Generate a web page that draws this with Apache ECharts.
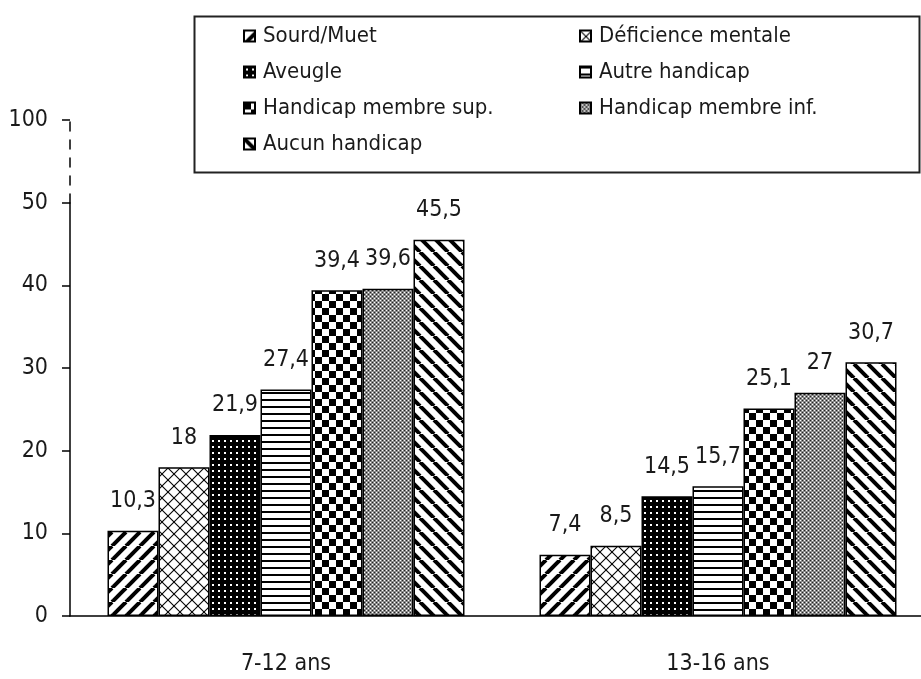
<!DOCTYPE html>
<html>
<head>
<meta charset="utf-8">
<script src="https://cdn.jsdelivr.net/npm/echarts@6/dist/echarts.min.js"></script>
<style>
html,body{margin:0;padding:0;background:#fff;overflow:hidden;}
#chart{width:934px;height:679px;}
</style>
</head>
<body>
<div id="chart"></div>
<script>
const categories = ['7-12 ans', '13-16 ans'];
const seriesNames = ['Sourd/Muet', 'Déficience mentale', 'Aveugle', 'Autre handicap', 'Handicap membre sup.', 'Handicap membre inf.', 'Aucun handicap'];
const sourdMuet = [10.3, 7.4];
const deficienceMentale = [18, 8.5];
const aveugle = [21.9, 14.5];
const autreHandicap = [27.4, 15.7];
const membreSup = [39.4, 25.1];
const membreInf = [39.6, 27];
const aucunHandicap = [45.5, 30.7];
const yTickLabels = {0: '0', 10: '10', 20: '20', 30: '30', 40: '40', 50: '50', 60: '100'};

const FONT = "'Liberation Sans Narrow', 'Arial Narrow', 'DejaVu Sans Condensed', sans-serif";

function pat(w, h, draw) {
  const c = document.createElement('canvas');
  c.width = w; c.height = h;
  const ctx = c.getContext('2d');
  ctx.fillStyle = '#fff';
  ctx.fillRect(0, 0, w, h);
  draw(ctx, w, h);
  return {image: c, repeat: 'repeat'};
}
const patterns = [
  pat(14, 14, (ctx, w, h) => { ctx.strokeStyle = '#000'; ctx.lineWidth = 4;
    for (const o of [-w, 0, w]) { ctx.beginPath(); ctx.moveTo(o, h); ctx.lineTo(o + w, 0); ctx.stroke(); } }),
  pat(12, 12, (ctx, w, h) => { ctx.strokeStyle = '#000'; ctx.lineWidth = 1.1;
    for (const o of [-w, 0, w]) { ctx.beginPath(); ctx.moveTo(o, h); ctx.lineTo(o + w, 0); ctx.stroke();
      ctx.beginPath(); ctx.moveTo(o, 0); ctx.lineTo(o + w, h); ctx.stroke(); } }),
  pat(6, 6, (ctx, w, h) => { ctx.fillStyle = '#000'; ctx.fillRect(0, 0, w, h); ctx.fillStyle = '#fff'; ctx.fillRect(2, 2, 2, 2); }),
  pat(7, 7, (ctx, w, h) => { ctx.fillStyle = '#000'; ctx.fillRect(0, 0, w, 2); }),
  pat(14, 14, (ctx, w, h) => { ctx.fillStyle = '#000'; ctx.fillRect(0, 0, 7, 7); ctx.fillRect(7, 7, 7, 7); }),
  pat(4, 4, (ctx, w, h) => { ctx.fillStyle = '#8a8a8a'; ctx.fillRect(0, 0, w, h);
    ctx.fillStyle = '#fff'; ctx.fillRect(0, 0, 1, 1); ctx.fillRect(2, 2, 1, 1);
    ctx.fillStyle = '#222'; ctx.fillRect(2, 0, 1, 1); ctx.fillRect(0, 2, 1, 1); }),
  pat(14, 14, (ctx, w, h) => { ctx.strokeStyle = '#000'; ctx.lineWidth = 4;
    for (const o of [-w, 0, w]) { ctx.beginPath(); ctx.moveTo(o, 0); ctx.lineTo(o + w, h); ctx.stroke(); } })
];
const values = [sourdMuet, deficienceMentale, aveugle, autreHandicap, membreSup, membreInf, aucunHandicap];

const chart = echarts.init(document.getElementById('chart'));
const series = seriesNames.map((name, i) => ({
  name: name,
  type: 'bar',
  xAxisIndex: 0, yAxisIndex: 0,
  data: values[i],
  barWidth: 51,
  barGap: '0%',
  itemStyle: {color: patterns[i], borderColor: '#000', borderWidth: 1.5},
  label: {
    show: true, position: 'top', distance: 18,
    fontFamily: FONT, fontSize: 23, color: '#1a1a1a',
    formatter: p => String(p.value).replace('.', ',')
  },
  emphasis: {disabled: true}
}));

const legendCommon = {
  orient: 'vertical',
  padding: 0,
  itemWidth: 11, itemHeight: 11,
  itemGap: 14,
  icon: 'rect',
  selectedMode: false,
  textStyle: {fontFamily: FONT, fontSize: 22, color: '#1a1a1a', padding: [0, 0, 0, 3]}
};

chart.setOption({
  backgroundColor: '#fff',
  animation: false,
  graphic: [{
    type: 'rect', left: 192, top: 14,
    shape: {width: 725, height: 156},
    style: {fill: 'none', stroke: '#222', lineWidth: 2},
    z: 0
  }],
  legend: [
    Object.assign({left: 243, top: 25, data: [seriesNames[0], seriesNames[2], seriesNames[4], seriesNames[6]]}, legendCommon),
    Object.assign({left: 579, top: 25, data: [seriesNames[1], seriesNames[3], seriesNames[5]]}, legendCommon)
  ],
  grid: [
    {left: 70, right: 0, top: 120, bottom: 63},
    {left: 70, width: 10, top: 203, bottom: 63},
    {left: 70, width: 10, top: 120, height: 83}
  ],
  xAxis: [
    {
      type: 'category', gridIndex: 0, data: categories,
      axisLine: {lineStyle: {color: '#000', width: 1.5}},
      axisTick: {length: 11, lineStyle: {color: '#000', width: 1.5}},
      axisLabel: {margin: 37, fontFamily: FONT, fontSize: 23, color: '#1a1a1a'}
    },
    {type: 'value', gridIndex: 1, show: false},
    {type: 'value', gridIndex: 2, show: false}
  ],
  yAxis: [
    {
      type: 'value', gridIndex: 0, min: 0, max: 60, interval: 10,
      axisLine: {show: false},
      axisTick: {show: true, length: 8, lineStyle: {color: '#000', width: 1.5}},
      splitLine: {show: false},
      axisLabel: {margin: 22, fontFamily: FONT, fontSize: 23, color: '#1a1a1a',
        formatter: v => yTickLabels[v] !== undefined ? yTickLabels[v] : ''}
    },
    {
      type: 'value', gridIndex: 1, min: 0, max: 1,
      axisLine: {show: true, lineStyle: {color: '#000', width: 1.5}},
      axisTick: {show: false}, axisLabel: {show: false}, splitLine: {show: false}
    },
    {
      type: 'value', gridIndex: 2, min: 0, max: 1,
      axisLine: {show: true, lineStyle: {color: '#000', width: 1.5, type: [9, 9]}},
      axisTick: {show: false}, axisLabel: {show: false}, splitLine: {show: false}
    }
  ],
  series: series
});
</script>
</body>
</html>
